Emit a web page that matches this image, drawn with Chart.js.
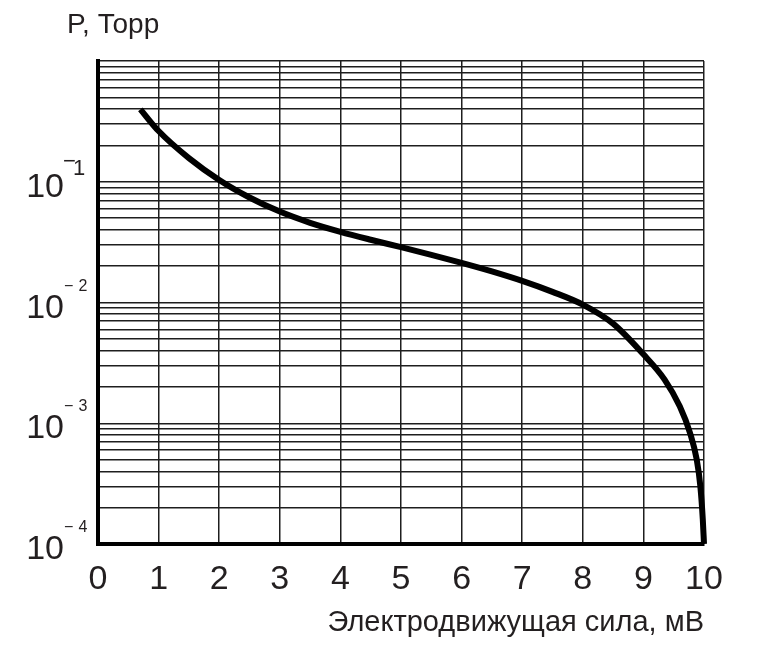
<!DOCTYPE html>
<html>
<head>
<meta charset="utf-8">
<script src="https://cdn.jsdelivr.net/npm/chart.js@4"></script>
<style>
html,body{margin:0;padding:0;background:#fff;}
#wrap{width:773px;height:650px;}
</style>
</head>
<body>
<div id="wrap"><canvas id="c" width="773" height="650"></canvas></div>
<script>
// ---- data ----
const emfValues = [0.7, 1, 1.5, 2, 2.5, 3, 3.5, 4, 4.5, 5, 5.5, 6, 6.5, 7, 7.5, 8, 8.5, 9, 9.35, 9.6, 9.77, 9.88, 9.94, 9.98, 10];
const pressureValues = [0.398, 0.263, 0.157, 0.1035, 0.0741, 0.0566, 0.0457, 0.0385, 0.0331, 0.0287, 0.0248, 0.0213, 0.0181, 0.0151, 0.01225, 0.0096, 0.00668, 0.00372, 0.0023, 0.00138, 0.00083, 0.00050, 0.00030, 0.00016, 0.0001];
const xTickLabels = ['0', '1', '2', '3', '4', '5', '6', '7', '8', '9', '10'];
const yDecadeExponents = [-1, -2, -3, -4];
const yMantissas = [1, 2, 3, 4, 5, 6, 7, 8, 9];
const yMin = 1e-4;
const yMax = 1;
const xTitle = 'Электродвижущая сила, мВ';
const yTitle = 'P, Торр';

// grid values for the log axis (1..9 × 10^n)
const yGridValues = [];
for (let e = -4; e < 0; e++) {
  yMantissas.forEach(m => yGridValues.push(Number((m * Math.pow(10, e)).toPrecision(12))));
}
yGridValues.push(yMax);

const FONT = '"Liberation Sans", Arial, Helvetica, sans-serif';
const TEXT = '#231f20';
const GRID = '#1e1e1e';

const labelPlugin = {
  id: 'labels',
  afterDraw(chart) {
    const ctx = chart.ctx;
    const ys = chart.scales.y;
    ctx.save();
    ctx.fillStyle = TEXT;
    ctx.textBaseline = 'alphabetic';
    ctx.textAlign = 'left';
    ctx.font = '28px ' + FONT;
    ctx.fillText(yTitle, 67, 33);
    yDecadeExponents.forEach(e => {
      const py = ys.getPixelForValue(Math.pow(10, e));
      ctx.font = '34px ' + FONT;
      ctx.textAlign = 'right';
      ctx.fillText('10', 64, py + 15);
      ctx.textAlign = 'left';
      if (e === -1) {
        ctx.font = '22px ' + FONT;
        ctx.fillText('\u2212', 63, py - 14);
        ctx.fillText(String(Math.abs(e)), 73, py - 7);
      } else {
        ctx.font = '16px ' + FONT;
        ctx.fillText('\u2212', 64, py - 12);
        ctx.fillText(String(Math.abs(e)), 78.5, py - 12);
      }
    });
    ctx.restore();
  }
};

new Chart(document.getElementById('c'), {
  type: 'line',
  data: {
    datasets: [{
      data: emfValues.map((x, i) => ({ x: x, y: pressureValues[i] })),
      borderColor: '#000',
      borderWidth: 6,
      pointRadius: 0,
      fill: false,
      cubicInterpolationMode: 'monotone',
      borderCapStyle: 'butt',
      borderJoinStyle: 'round',
      clip: false
    }]
  },
  options: {
    responsive: false,
    animation: false,
    devicePixelRatio: 1,
    layout: { padding: { left: 58, right: 69, top: 61, bottom: 0 } },
    plugins: { legend: { display: false }, tooltip: { enabled: false }, title: { display: false } },
    scales: {
      x: {
        type: 'linear',
        min: 0,
        max: 10,
        ticks: {
          stepSize: 1,
          autoSkip: false,
          maxRotation: 0,
          padding: 15,
          color: TEXT,
          font: { family: FONT, size: 34 },
          callback: (v, i) => xTickLabels[i]
        },
        grid: { color: GRID, lineWidth: 1.5, drawTicks: false },
        border: { display: true, color: '#000', width: 4 },
        title: {
          display: true,
          text: xTitle,
          align: 'end',
          color: TEXT,
          font: { family: FONT, size: 29 },
          padding: { top: 0, bottom: 10 }
        },
        afterFit: s => { s.height = 106; }
      },
      y: {
        type: 'logarithmic',
        min: yMin,
        max: yMax,
        ticks: { display: false, autoSkip: false },
        grid: { color: GRID, lineWidth: 1.5, drawTicks: false },
        border: { display: true, color: '#000', width: 4 },
        afterBuildTicks: s => { s.ticks = yGridValues.map(v => ({ value: v })); },
        afterFit: s => { s.width = 40; }
      }
    }
  },
  plugins: [labelPlugin]
});
</script>
</body>
</html>
